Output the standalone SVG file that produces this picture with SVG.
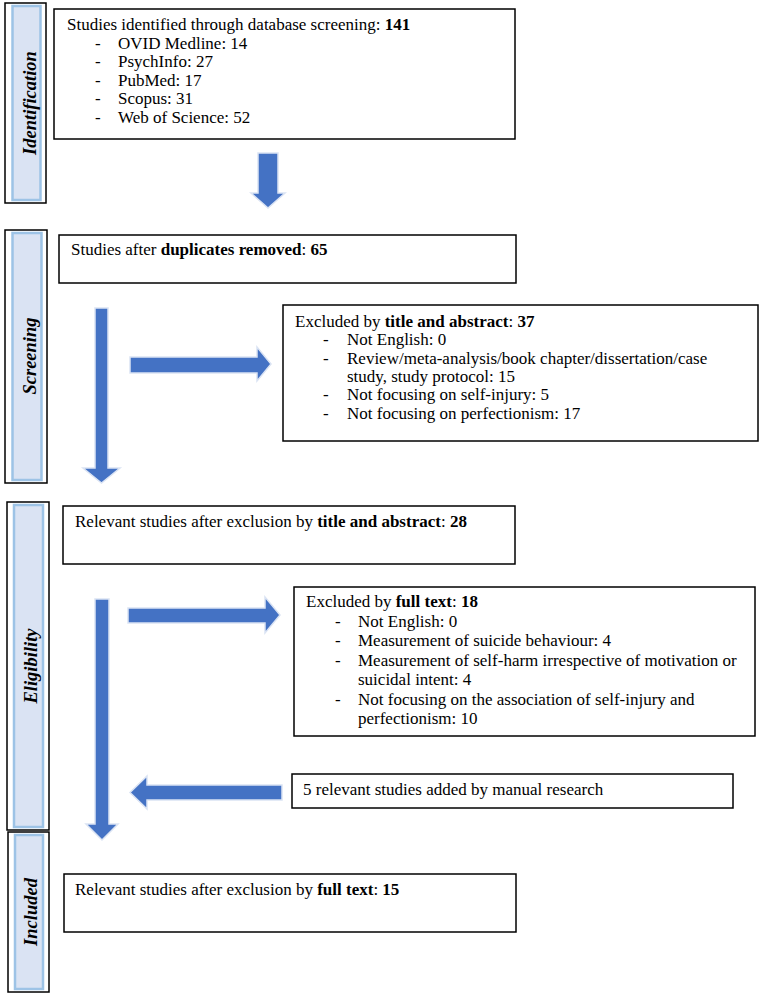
<svg xmlns="http://www.w3.org/2000/svg" width="765" height="1003" viewBox="0 0 765 1003">
<style>
.bg{fill:#ffffff}
.box{fill:#ffffff;stroke:#000000;stroke-width:1.5}
.barO{fill:#ffffff;stroke:#000000;stroke-width:1.5}
.barI{fill:#dae3f3;stroke:#9dc3e6;stroke-width:2.5}
.arr{fill:#4472c4;stroke:#dae3f3;stroke-width:1.5;stroke-linejoin:miter}
text{font-family:"Liberation Serif","Times New Roman",serif;font-size:17px;fill:#000000}
.lab{font-weight:bold;font-style:italic;font-size:18.5px}
.b{font-weight:bold}
</style>
<rect class="bg" x="0" y="0" width="765" height="1003"/>

<g id="bar-identification">
<rect class="barO" x="5" y="3" width="41" height="200"/>
<rect class="barI" x="12.5" y="6" width="28" height="194"/>
<text class="lab" transform="translate(36,103) rotate(-90)" text-anchor="middle">Identification</text>
</g>
<g id="bar-screening">
<rect class="barO" x="5" y="230" width="42" height="253"/>
<rect class="barI" x="12.5" y="233" width="29" height="247"/>
<text class="lab" transform="translate(36,356) rotate(-90)" text-anchor="middle">Screening</text>
</g>
<g id="bar-eligibility">
<rect class="barO" x="7" y="502" width="42" height="328"/>
<rect class="barI" x="14" y="505" width="29" height="322"/>
<text class="lab" transform="translate(37,666) rotate(-90)" text-anchor="middle">Eligibility</text>
</g>
<g id="bar-included">
<rect class="barO" x="8" y="832" width="41" height="160"/>
<rect class="barI" x="15" y="835" width="28" height="154"/>
<text class="lab" transform="translate(37,912) rotate(-90)" text-anchor="middle">Included</text>
</g>

<g id="node-identified">
<rect class="box" x="54" y="9" width="461" height="130"/>
<text x="67" y="30">Studies identified through database screening: <tspan class="b">141</tspan></text>
<text x="95" y="49">-</text><text x="118" y="49">OVID Medline: 14</text>
<text x="95" y="67">-</text><text x="118" y="67">PsychInfo: 27</text>
<text x="95" y="86">-</text><text x="118" y="86">PubMed: 17</text>
<text x="95" y="104">-</text><text x="118" y="104">Scopus: 31</text>
<text x="95" y="123">-</text><text x="118" y="123">Web of Science: 52</text>
</g>

<g id="node-duplicates">
<rect class="box" x="59" y="235" width="457" height="48"/>
<text x="71" y="255">Studies after <tspan class="b">duplicates removed</tspan>: <tspan class="b">65</tspan></text>
</g>

<g id="node-excluded-title">
<rect class="box" x="283" y="305" width="475" height="136"/>
<text x="295" y="327">Excluded by <tspan class="b">title and abstract</tspan>: <tspan class="b">37</tspan></text>
<text x="323" y="345">-</text><text x="347" y="345">Not English: 0</text>
<text x="323" y="364">-</text><text x="347" y="364">Review/meta-analysis/book chapter/dissertation/case</text>
<text x="347" y="382">study, study protocol: 15</text>
<text x="323" y="400">-</text><text x="347" y="400">Not focusing on self-injury: 5</text>
<text x="323" y="419">-</text><text x="347" y="419">Not focusing on perfectionism: 17</text>
</g>

<g id="node-relevant-title">
<rect class="box" x="63" y="506" width="452" height="58"/>
<text x="75" y="527">Relevant studies after exclusion by <tspan class="b">title and abstract</tspan>: <tspan class="b">28</tspan></text>
</g>

<g id="node-excluded-full">
<rect class="box" x="294" y="587" width="461" height="149"/>
<text x="306" y="607">Excluded by <tspan class="b">full text</tspan>: <tspan class="b">18</tspan></text>
<text x="335" y="627">-</text><text x="358" y="627">Not English: 0</text>
<text x="335" y="646">-</text><text x="358" y="646">Measurement of suicide behaviour: 4</text>
<text x="335" y="666">-</text><text x="358" y="666">Measurement of self-harm irrespective of motivation or</text>
<text x="358" y="685">suicidal intent: 4</text>
<text x="335" y="705">-</text><text x="358" y="705">Not focusing on the association of self-injury and</text>
<text x="358" y="724">perfectionism: 10</text>
</g>

<g id="node-manual">
<rect class="box" x="292" y="774" width="441" height="34"/>
<text x="303" y="795">5 relevant studies added by manual research</text>
</g>

<g id="node-included">
<rect class="box" x="64" y="874" width="452" height="58"/>
<text x="75" y="895">Relevant studies after exclusion by <tspan class="b">full text</tspan>: <tspan class="b">15</tspan></text>
</g>

<g id="connectors">
<polygon class="arr" points="258,153 278,153 278,193 285,193 268,208 251,193 258,193"/>
<polygon class="arr" points="95,308 108,308 108,468 120,468 101.5,483 83,468 95,468"/>
<polygon class="arr" points="130,357 257,357 257,347 271,364 257,381 257,373 130,373"/>
<polygon class="arr" points="128,608 265,608 265,597 280,615 265,633 265,623 128,623"/>
<polygon class="arr" points="95,599 109,599 109,824 118,824 102,840 86,824 95,824"/>
<polygon class="arr" points="282,785 147,785 147,776 130,792.5 147,809 147,800 282,800"/>
</g>
</svg>
